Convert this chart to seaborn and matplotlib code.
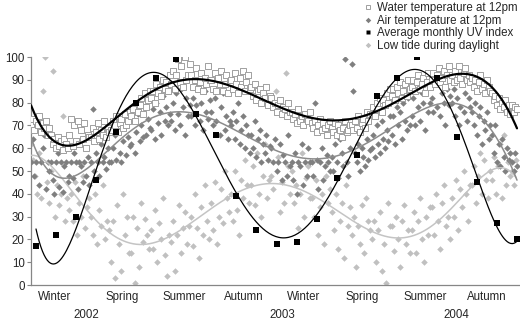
import numpy as np
import pandas as pd
import matplotlib
matplotlib.use("Agg")
import matplotlib.pyplot as plt
import seaborn as sns
from matplotlib.lines import Line2D

# ---------------- data (months since June 2002) ----------------
uv_index = [17, 22, 30, 46, 67, 80, 91, 99, 75, 66, 39, 24, 18, 19, 29, 47,
            57, 83, 91, 100, 91, 65, 45, 27, 20]

# water temperature, 12 readings per month
water_temp = [
    70, 73, 68, 72, 70, 74, 67, 71, 69, 72, 66, 69,
    66, 62, 64, 60, 65, 61, 63, 59, 64, 62, 60, 66,
    73, 61, 70, 63, 72, 62, 68, 64, 71, 60, 66, 65,
    65, 69, 63, 67, 71, 64, 68, 66, 72, 65, 69, 67,
    68, 72, 70, 74, 67, 71, 73, 69, 75, 70, 72, 76,
    74, 77, 72, 80, 76, 79, 82, 75, 84, 78, 81, 85,
    82, 85, 80, 88, 84, 87, 83, 90, 86, 89, 85, 92,
    88, 94, 86, 92, 99, 89, 96, 87, 100, 90, 92, 97,
    92, 87, 90, 95, 86, 89, 93, 85, 91, 88, 96, 90,
    90, 86, 93, 85, 91, 88, 94, 85, 88, 92, 84, 89,
    90, 86, 93, 88, 84, 91, 87, 94, 85, 89, 92, 86,
    87, 83, 88, 81, 85, 86, 80, 84, 82, 87, 79, 83,
    82, 78, 80, 76, 79, 81, 75, 78, 77, 74, 80, 76,
    76, 73, 75, 71, 77, 72, 74, 70, 75, 73, 72, 76,
    71, 69, 72, 67, 70, 73, 68, 71, 69, 66, 70, 72,
    69, 67, 71, 66, 70, 68, 65, 69, 72, 67, 68, 70,
    70, 68, 72, 69, 74, 67, 71, 73, 69, 76, 72, 75,
    75, 78, 74, 80, 77, 82, 76, 81, 79, 84, 80, 86,
    83, 86, 81, 87, 84, 89, 82, 85, 88, 83, 90, 86,
    87, 90, 85, 89, 92, 86, 88, 91, 84, 89, 93, 87,
    90, 93, 88, 92, 95, 89, 91, 94, 87, 92, 96, 90,
    92, 89, 94, 90, 96, 91, 88, 93, 95, 90, 92, 89,
    91, 87, 90, 85, 89, 92, 86, 88, 84, 90, 87, 85,
    84, 81, 83, 79, 82, 77, 80, 78, 81, 76, 79, 75,
    79, 76, 78, 77,
]

# air temperature, 12 readings per month
air_temp = [
    54, 64, 48, 54, 70, 44, 54, 60, 66, 42, 54, 50,
    54, 46, 40, 54, 58, 43, 54, 41, 52, 54, 45, 48,
    54, 47, 58, 54, 42, 54, 52, 45, 54, 48, 56, 44,
    54, 77, 50, 58, 54, 48, 62, 54, 56, 51, 60, 54,
    54, 60, 66, 55, 68, 58, 54, 63, 70, 57, 65, 61,
    62, 72, 58, 67, 75, 63, 70, 65, 78, 66, 73, 69,
    68, 77, 64, 80, 71, 76, 66, 83, 72, 78, 70, 75,
    72, 80, 68, 84, 75, 70, 86, 78, 66, 82, 74, 79,
    74, 82, 70, 79, 88, 72, 80, 68, 85, 76, 73, 81,
    76, 70, 82, 72, 90, 66, 78, 84, 68, 74, 64, 72,
    70, 76, 64, 72, 80, 62, 68, 74, 60, 70, 66, 58,
    66, 60, 72, 56, 64, 68, 54, 62, 58, 66, 55, 61,
    60, 54, 64, 50, 54, 62, 46, 57, 54, 48, 66, 52,
    54, 46, 58, 40, 54, 52, 62, 44, 54, 48, 60, 54,
    54, 48, 80, 55, 42, 54, 60, 46, 52, 57, 54, 50,
    56, 50, 62, 54, 47, 64, 58, 52, 99, 54, 48, 60,
    97, 85, 58, 54, 62, 50, 60, 56, 52, 64, 55, 59,
    60, 66, 56, 70, 62, 58, 72, 64, 60, 68, 63, 74,
    66, 74, 62, 78, 70, 76, 64, 80, 72, 68, 82, 70,
    74, 82, 70, 86, 78, 72, 84, 80, 68, 88, 76, 80,
    82, 76, 88, 78, 92, 74, 84, 80, 70, 86, 79, 83,
    80, 86, 74, 82, 70, 78, 88, 76, 84, 72, 82, 78,
    76, 70, 80, 66, 74, 78, 62, 72, 68, 76, 64, 70,
    66, 58, 70, 54, 62, 52, 64, 56, 50, 60, 55, 58,
    54, 50, 58, 52,
]

# low tide during daylight, 10 readings per month
low_tide = [
    62, 55, 48, 40, 58, 38, 85, 100, 45, 36,
    50, 94, 30, 44, 35, 40, 74, 28, 38, 33,
    40, 28, 45, 22, 36, 30, 48, 25, 34, 38,
    30, 22, 40, 18, 33, 26, 44, 20, 28, 24,
    10, 28, 3, 35, 18, 6, 40, 22, 30, 14,
    14, 30, 1, 25, 8, 36, 19, 29, 22, 16,
    24, 16, 33, 10, 27, 20, 38, 13, 4, 22,
    19, 28, 6, 22, 35, 14, 25, 32, 18, 26,
    30, 17, 40, 25, 12, 34, 22, 44, 28, 20,
    36, 24, 45, 18, 30, 42, 27, 50, 38, 32,
    40, 28, 50, 33, 22, 46, 38, 55, 44, 36,
    44, 52, 35, 58, 40, 30, 48, 62, 38, 46,
    48, 42, 85, 56, 32, 45, 36, 93, 52, 40,
    50, 36, 44, 25, 40, 58, 30, 47, 52, 38,
    38, 30, 46, 22, 34, 40, 18, 48, 36, 42,
    32, 24, 40, 16, 28, 36, 12, 44, 26, 34,
    22, 30, 8, 26, 18, 35, 14, 38, 28, 24,
    20, 28, 10, 24, 32, 6, 18, 1, 36, 26,
    26, 15, 30, 20, 8, 28, 35, 18, 24, 14,
    24, 32, 14, 28, 38, 20, 10, 30, 22, 34,
    34, 22, 40, 28, 16, 36, 44, 26, 30, 20,
    38, 30, 46, 24, 42, 34, 50, 40, 28, 44,
    44, 52, 36, 48, 58, 40, 55, 46, 38, 50,
    46, 56, 40, 52, 62, 38, 66, 44, 54, 48,
    50, 44, 55,
]

season_labels = ["Winter", "Spring", "Summer", "Autumn",
                 "Winter", "Spring", "Summer", "Autumn"]
season_month = [0.95, 4.3, 7.4, 10.35, 13.35, 16.3, 19.4, 22.5]
year_labels = ["2002", "2003", "2004"]
year_month = [2.5, 12.3, 21.0]

legend_labels = ["Water temperature at 12pm", "Air temperature at 12pm",
                 "Average monthly UV index", "Low tide during daylight"]

uv_df = pd.DataFrame({"m": np.arange(len(uv_index)), "v": uv_index})
water_df = pd.DataFrame({"m": -0.25 + np.arange(len(water_temp)) / 12, "v": water_temp})
air_df = pd.DataFrame({"m": -0.25 + np.arange(len(air_temp)) / 12, "v": air_temp})
tide_df = pd.DataFrame({"m": -0.25 + np.arange(len(low_tide)) / 10, "v": low_tide})


def poly_trend(df, deg=6):
    p = np.polynomial.Polynomial.fit(df["m"], df["v"], deg)
    xs = np.linspace(df["m"].min(), df["m"].max(), 300)
    return pd.DataFrame({"m": xs, "v": p(xs)})


# ---------------- style ----------------
sns.set_style("white")
plt.rcParams["font.family"] = ["Liberation Sans", "DejaVu Sans"]

fig = plt.figure(figsize=(5.2, 3.24), dpi=100)
ax = fig.add_axes([31 / 520, 39 / 324, 488 / 520, 228 / 324])

c_water = "#a0a0a0"
c_air = "#7f7f7f"
c_tide = "#c0c0c0"

sns.scatterplot(data=tide_df, x="m", y="v", ax=ax, marker="D", s=11,
                color=c_tide, linewidth=0, zorder=2, legend=False)
sns.scatterplot(data=air_df, x="m", y="v", ax=ax, marker="D", s=11,
                color=c_air, linewidth=0, zorder=3, legend=False)
sns.scatterplot(data=water_df, x="m", y="v", ax=ax, marker="s", s=20,
                facecolor="white", edgecolor=c_water, linewidth=0.7,
                zorder=4, legend=False)

sns.lineplot(data=poly_trend(tide_df), x="m", y="v", ax=ax, color="#c4c4c4",
             lw=1.1, zorder=5, legend=False)
sns.lineplot(data=poly_trend(air_df), x="m", y="v", ax=ax, color="#8c8c8c",
             lw=1.1, zorder=5, legend=False)
sns.lineplot(data=poly_trend(water_df), x="m", y="v", ax=ax, color="black",
             lw=1.6, zorder=6, legend=False)
sns.lineplot(data=poly_trend(uv_df), x="m", y="v", ax=ax, color="black",
             lw=0.9, zorder=6, legend=False)
sns.scatterplot(data=uv_df, x="m", y="v", ax=ax, marker="s", s=14,
                color="black", linewidth=0, zorder=7, legend=False)

ax.set_xlim(-0.25, 24.1)
ax.set_ylim(0, 100)
ax.set_yticks(range(0, 101, 10))
ax.set_xticks([])
ax.set_xlabel("")
ax.set_ylabel("")
ax.tick_params(axis="y", length=3, width=0.8, color="#868686",
               labelsize=8.3, pad=1.5, left=True)
for side in ["top", "right"]:
    ax.spines[side].set_visible(False)
for side in ["left", "bottom"]:
    ax.spines[side].set_color("#868686")
    ax.spines[side].set_linewidth(0.9)

trans = ax.get_xaxis_transform()
for lab, m in zip(season_labels, season_month):
    ax.text(m, -0.053, lab, transform=trans, ha="center", va="center",
            fontsize=8.3, clip_on=False)
for lab, m in zip(year_labels, year_month):
    ax.text(m, -0.132, lab, transform=trans, ha="center", va="center",
            fontsize=8.3, clip_on=False)

handles = [
    Line2D([], [], ls="none", marker="s", ms=3.5, mfc="white", mec=c_water, mew=0.7),
    Line2D([], [], ls="none", marker="D", ms=2.8, mfc=c_air, mec="none"),
    Line2D([], [], ls="none", marker="s", ms=3.2, mfc="black", mec="none"),
    Line2D([], [], ls="none", marker="D", ms=2.8, mfc=c_tide, mec="none"),
]
fig.legend(handles, legend_labels, loc="upper left",
           bbox_to_anchor=(365 / 520, 1 - 2 / 324), frameon=False,
           fontsize=8.3, handlelength=0.6, handletextpad=0.45,
           labelspacing=0.05, borderpad=0, borderaxespad=0)

fig.savefig("out.png", dpi=100)
